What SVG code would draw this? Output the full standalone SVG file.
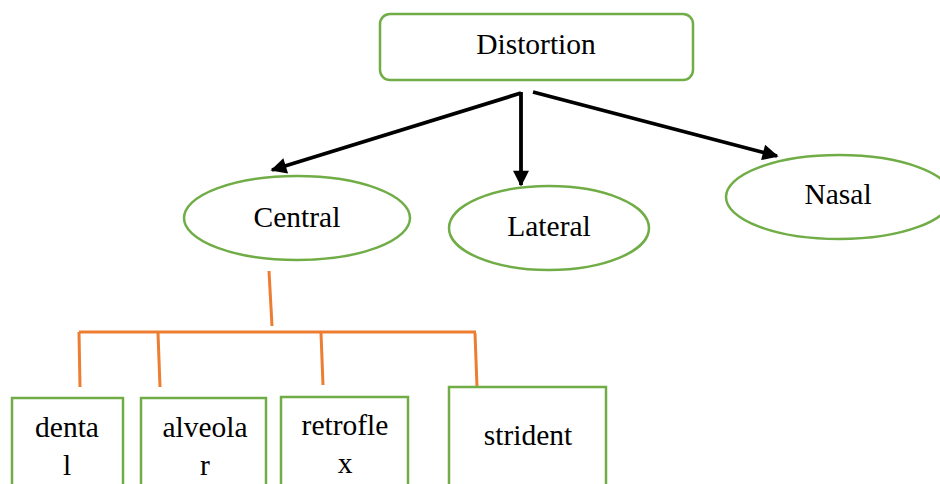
<svg xmlns="http://www.w3.org/2000/svg" width="940" height="484" viewBox="0 0 940 484">
<style>
.n{fill:#fff;stroke:#70AD47;stroke-width:2.5}
.t{font-family:"Liberation Serif","Times New Roman",serif;font-size:29.5px;fill:#000;text-anchor:middle}
.a{stroke:#000;stroke-width:3.8;fill:none}
.o{stroke:#ED7D31;stroke-width:3;fill:none}
</style>
<defs>
<marker id="ah" viewBox="0 0 10 10" refX="9" refY="5" markerWidth="4.6" markerHeight="4.2" markerUnits="strokeWidth" orient="auto">
<path d="M0,0 L10,5 L0,10 z" fill="#000"/>
</marker>
</defs>
<rect width="940" height="484" fill="#fff"/>
<g id="connectors">
<line class="a" x1="521" y1="93" x2="272" y2="170" marker-end="url(#ah)"/>
<line class="a" x1="521" y1="92" x2="521" y2="185" marker-end="url(#ah)"/>
<line class="a" x1="533" y1="92" x2="777" y2="156" marker-end="url(#ah)"/>
<line class="o" x1="269" y1="271" x2="272" y2="326"/>
<line class="o" x1="79" y1="332" x2="476" y2="332"/>
<line class="o" x1="79" y1="332" x2="80" y2="387"/>
<line class="o" x1="158" y1="333" x2="160" y2="387"/>
<line class="o" x1="321" y1="333" x2="323" y2="385"/>
<line class="o" x1="475" y1="333" x2="477" y2="387"/>
</g>
<g id="distortion">
<rect class="n" x="380" y="14" width="313" height="66" rx="10"/>
<text class="t" x="536" y="54">Distortion</text>
</g>
<g id="central">
<ellipse class="n" cx="297" cy="218" rx="113" ry="42"/>
<text class="t" x="297" y="227">Central</text>
</g>
<g id="lateral">
<ellipse class="n" cx="549" cy="228" rx="100" ry="42"/>
<text class="t" x="549" y="236">Lateral</text>
</g>
<g id="nasal">
<ellipse class="n" cx="839" cy="197" rx="113" ry="42"/>
<text class="t" x="838" y="204">Nasal</text>
</g>
<g id="dental">
<rect class="n" x="12" y="398" width="111" height="100"/>
<text class="t" x="67" y="437">denta</text>
<text class="t" x="67" y="475">l</text>
</g>
<g id="alveolar">
<rect class="n" x="141" y="398" width="125" height="100"/>
<text class="t" x="205" y="437">alveola</text>
<text class="t" x="205" y="475">r</text>
</g>
<g id="retroflex">
<rect class="n" x="281" y="397" width="127" height="100"/>
<text class="t" x="345" y="435">retrofle</text>
<text class="t" x="345" y="473">x</text>
</g>
<g id="strident">
<rect class="n" x="449" y="387" width="157" height="110"/>
<text class="t" x="528" y="445">strident</text>
</g>
</svg>
